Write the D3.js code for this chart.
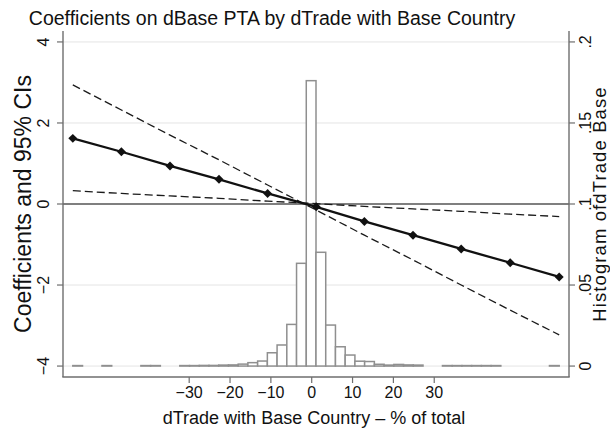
<!DOCTYPE html>
<html>
<head>
<meta charset="utf-8">
<script src="https://cdn.jsdelivr.net/npm/d3@7/dist/d3.min.js"></script>
<style>
  html, body { margin: 0; padding: 0; background: #fff; }
  svg { display: block; font-family: "Liberation Sans", Arial, Helvetica, sans-serif; }
</style>
</head>
<body>
<svg id="chart" width="610" height="431"></svg>
<script>
// ---- Data ----
const titleText = "Coefficients on dBase PTA by dTrade with Base Country";
const xTitle = "dTrade with Base Country \u2013 % of total";
const yTitleLeft = "Coefficients and 95% CIs";
const yTitleRight = "Histogram ofdTrade Base";

// evaluation points of dTrade (x) and the estimated coefficient and CI bounds
const coefX = [-58.5, -46.6, -34.7, -22.7, -10.8, 1.1, 12.9, 24.8, 36.6, 48.6, 60.6];
const coefY = [1.62, 1.29, 0.94, 0.61, 0.26, -0.07, -0.43, -0.77, -1.11, -1.45, -1.80];
const ciUpper = [2.94, 2.32, 1.70, 1.09, 0.47, -0.15, -0.77, -1.38, -2.00, -2.62, -3.23];
const ciLower = [0.33, 0.26, 0.20, 0.14, 0.07, 0.01, -0.06, -0.12, -0.18, -0.25, -0.31];

// histogram densities, 50 equal bins spanning the range of dTrade
const histDensity = [
  0.0003, 0, 0, 0.0003, 0, 0, 0, 0.0003, 0.0003, 0,
  0, 0.0003, 0.0003, 0.0004, 0.0004, 0.0006, 0.0007, 0.0012, 0.0021, 0.0031,
  0.0082, 0.0130, 0.0257, 0.0634, 0.1761, 0.0702, 0.0253, 0.0119, 0.0068, 0.0030,
  0.0028, 0.0011, 0.0006, 0.0010, 0.0007, 0.0006, 0, 0, 0.0003, 0.0003,
  0.0003, 0.0003, 0.0003, 0.0003, 0, 0, 0, 0, 0, 0.0003
];

const xTicks = [-30, -20, -10, 0, 10, 20, 30];
const yTicksLeft = [-4, -2, 0, 2, 4];
const yTicksRight = [0, 0.05, 0.1, 0.15, 0.2];
const yTickLabelsRight = ["0", ".05", ".1", ".15", ".2"];

// ---- Layout ----
const plot = { left: 63, right: 569, top: 31, bottom: 377 };
const svg = d3.select("#chart");

const x = d3.scaleLinear().domain([-60.9, 63.0]).range([plot.left, plot.right]);
const y = d3.scaleLinear().domain([-4.27, 4.27]).range([plot.bottom, plot.top]);
const yR = d3.scaleLinear().domain([0, 0.2]).range([y(-4), y(4)]);

const axisColor = "#6e6e6e";
const gridColor = "#e4e4e4";

// gridlines
svg.append("g").selectAll("line").data(yTicksLeft.filter(d => d !== 0)).join("line")
  .attr("x1", plot.left).attr("x2", plot.right)
  .attr("y1", d => y(d)).attr("y2", d => y(d))
  .attr("stroke", gridColor).attr("stroke-width", 1);

// histogram bars
const xMin = coefX[0], xMax = coefX[coefX.length - 1];
const binW = (xMax - xMin) / histDensity.length;
const bins = histDensity.map((d, i) => ({ x0: xMin + i * binW, x1: xMin + (i + 1) * binW, d }))
  .filter(b => b.d > 0);
svg.append("g").selectAll("rect").data(bins).join("rect")
  .attr("x", b => x(b.x0))
  .attr("width", b => x(b.x1) - x(b.x0))
  .attr("y", b => yR(b.d))
  .attr("height", b => yR(0) - yR(b.d))
  .attr("fill", "#fff")
  .attr("stroke", "#8f8f8f")
  .attr("stroke-width", 1.5);

// zero line
svg.append("line")
  .attr("x1", plot.left).attr("x2", plot.right)
  .attr("y1", y(0)).attr("y2", y(0))
  .attr("stroke", "#555").attr("stroke-width", 1.7);

// CI dashed lines
const line = d3.line().x(d => x(d[0])).y(d => y(d[1]));
[ciUpper, ciLower].forEach(arr => {
  svg.append("path")
    .attr("d", line(coefX.map((v, i) => [v, arr[i]])))
    .attr("fill", "none").attr("stroke", "#1a1a1a")
    .attr("stroke-width", 1.3).attr("stroke-dasharray", "8,4");
});

// coefficient line
svg.append("path")
  .attr("d", line(coefX.map((v, i) => [v, coefY[i]])))
  .attr("fill", "none").attr("stroke", "#111").attr("stroke-width", 2.3);

const sym = d3.symbol().type(d3.symbolSquare).size(40);
svg.append("g").selectAll("path").data(coefX.map((v, i) => [v, coefY[i]])).join("path")
  .attr("d", sym)
  .attr("transform", d => `translate(${x(d[0])},${y(d[1])}) rotate(45)`)
  .attr("fill", "#111");

// axes lines
svg.append("line").attr("x1", plot.left).attr("x2", plot.left)
  .attr("y1", plot.top).attr("y2", plot.bottom).attr("stroke", axisColor).attr("stroke-width", 1.4);
svg.append("line").attr("x1", plot.right).attr("x2", plot.right)
  .attr("y1", plot.top).attr("y2", plot.bottom).attr("stroke", axisColor).attr("stroke-width", 1.4);
svg.append("line").attr("x1", plot.left - 0.7).attr("x2", plot.right + 0.7)
  .attr("y1", plot.bottom).attr("y2", plot.bottom).attr("stroke", axisColor).attr("stroke-width", 1.4);

// x ticks
const gx = svg.append("g");
gx.selectAll("line").data(xTicks).join("line")
  .attr("x1", d => x(d)).attr("x2", d => x(d))
  .attr("y1", plot.bottom).attr("y2", plot.bottom + 6)
  .attr("stroke", axisColor).attr("stroke-width", 1.2);
gx.selectAll("text").data(xTicks).join("text")
  .attr("x", d => x(d)).attr("y", 398)
  .attr("text-anchor", "middle").attr("font-size", 16).attr("fill", "#111")
  .text(d => d < 0 ? "\u2212" + Math.abs(d) : String(d));

// left y ticks
const gyl = svg.append("g");
gyl.selectAll("line").data(yTicksLeft).join("line")
  .attr("x1", plot.left - 6).attr("x2", plot.left)
  .attr("y1", d => y(d)).attr("y2", d => y(d))
  .attr("stroke", axisColor).attr("stroke-width", 1.2);
gyl.selectAll("text").data(yTicksLeft).join("text")
  .attr("transform", d => `translate(48.5,${y(d)}) rotate(-90)`)
  .attr("text-anchor", "middle").attr("font-size", 16).attr("fill", "#111")
  .text(d => d < 0 ? "\u2212" + Math.abs(d) : String(d));

// right y ticks
const gyr = svg.append("g");
gyr.selectAll("line").data(yTicksRight).join("line")
  .attr("x1", plot.right).attr("x2", plot.right + 6)
  .attr("y1", d => yR(d)).attr("y2", d => yR(d))
  .attr("stroke", axisColor).attr("stroke-width", 1.2);
gyr.selectAll("text").data(yTicksRight).join("text")
  .attr("transform", d => `translate(591,${yR(d)}) rotate(-90)`)
  .attr("text-anchor", "middle").attr("font-size", 16).attr("fill", "#111")
  .text((d, i) => yTickLabelsRight[i]);

// titles
svg.append("text").attr("x", 272).attr("y", 25)
  .attr("text-anchor", "middle").attr("font-size", 19.5).attr("fill", "#111")
  .text(titleText);
svg.append("text").attr("x", 314).attr("y", 424)
  .attr("text-anchor", "middle").attr("font-size", 18).attr("fill", "#111")
  .text(xTitle);
svg.append("text").attr("transform", `translate(31,204) rotate(-90)`)
  .attr("text-anchor", "middle").attr("font-size", 23).attr("fill", "#111")
  .text(yTitleLeft);
svg.append("text").attr("transform", `translate(606,204) rotate(-90)`)
  .attr("text-anchor", "middle").attr("font-size", 18.5).attr("letter-spacing", 1.1).attr("fill", "#111")
  .text(yTitleRight);
</script>
</body>
</html>
